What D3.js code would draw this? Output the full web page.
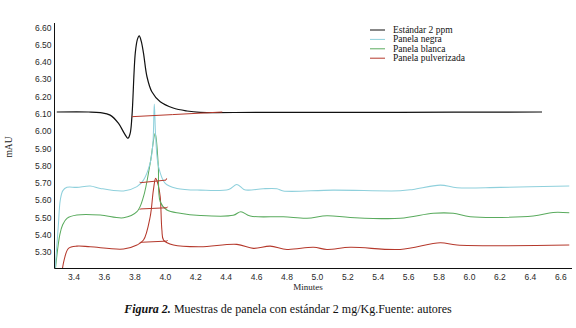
<!DOCTYPE html>
<html><head><meta charset="utf-8">
<script src="https://cdn.jsdelivr.net/npm/d3@7"></script>
<style>html,body{margin:0;padding:0;background:#fff;}svg{display:block;}</style>
</head><body>
<svg id="c" width="576" height="328"></svg>
<script>
const seriesNames = ["Estándar 2 ppm","Panela negra","Panela blanca","Panela pulverizada"];
const seriesColors = ["#111111","#8fd0dc","#5aab5e","#b5392c"];
const xTicks = [3.4,3.6,3.8,4.0,4.2,4.4,4.6,4.8,5.0,5.2,5.4,5.6,5.8,6.0,6.2,6.4,6.6];
const yTicks = [6.6,6.5,6.4,6.3,6.2,6.1,6.0,5.9,5.8,5.7,5.6,5.5,5.4,5.3];

const estandar = [[3.29,6.11],[3.50,6.11],[3.576,6.106],[3.641,6.092],[3.696,6.044],[3.735,5.985],[3.758,5.958],[3.772,5.985],[3.784,6.083],[3.806,6.451],[3.82,6.53],[3.832,6.550],[3.845,6.52],[3.860,6.451],[3.883,6.314],[3.915,6.227],[3.970,6.169],[4.055,6.133],[4.146,6.116],[4.233,6.108],[4.6,6.108],[5.2,6.108],[5.9,6.109],[6.48,6.11]];
const negra = [[3.275,5.15],[3.30,5.45],[3.313,5.60],[3.33,5.655],[3.357,5.674],[3.422,5.674],[3.51,5.682],[3.576,5.668],[3.729,5.653],[3.817,5.678],[3.86,5.716],[3.904,5.815],[3.922,5.929],[3.931,6.156],[3.941,5.95],[3.959,5.793],[4.003,5.697],[4.08,5.668],[4.234,5.658],[4.42,5.662],[4.474,5.691],[4.52,5.662],[4.549,5.658],[4.647,5.666],[4.737,5.666],[4.779,5.653],[5.107,5.658],[5.548,5.654],[5.633,5.662],[5.811,5.687],[5.921,5.672],[6.205,5.674],[6.659,5.682]];
const blanca = [[3.275,5.15],[3.31,5.40],[3.33,5.46],[3.357,5.495],[3.422,5.514],[3.576,5.514],[3.729,5.498],[3.817,5.533],[3.86,5.62],[3.904,5.813],[3.937,5.987],[3.957,5.803],[3.97,5.591],[4.014,5.543],[4.101,5.524],[4.233,5.511],[4.45,5.512],[4.50,5.533],[4.562,5.508],[4.779,5.504],[4.935,5.495],[5.066,5.51],[5.219,5.50],[5.548,5.495],[5.765,5.524],[5.896,5.524],[6.008,5.504],[6.422,5.508],[6.553,5.529],[6.659,5.527]];
const pulverizada = [[3.318,5.15],[3.34,5.26],[3.367,5.321],[3.422,5.334],[3.51,5.33],[3.729,5.317],[3.817,5.34],[3.86,5.369],[3.904,5.504],[3.925,5.658],[3.94,5.726],[3.957,5.687],[3.97,5.62],[3.981,5.427],[3.992,5.369],[4.057,5.34],[4.233,5.33],[4.474,5.344],[4.583,5.321],[4.693,5.334],[4.803,5.315],[4.978,5.327],[5.066,5.315],[5.219,5.327],[5.548,5.315],[5.811,5.353],[5.921,5.34],[6.659,5.34]];
// integration baselines drawn in red
const baseEstandar = [[3.784,6.083],[4.05,6.095],[4.378,6.11]];
const baseNegra = [[3.836,5.706],[3.839,5.701],[4.008,5.716],[4.012,5.726]];
const baseBlanca = [[3.836,5.545],[3.839,5.549],[4.014,5.556],[4.018,5.562]];
const basePulverizada = [[3.836,5.352],[3.839,5.356],[4.014,5.363],[4.018,5.368]];

const svg = d3.select("#c");
const L = 54.5, R = 572, T = 23, B = 268.5;
const x = d3.scaleLinear().domain([3.275, 6.677]).range([L, R]);
const y = d3.scaleLinear().domain([5.2045, 6.625]).range([B, T]);

svg.append("defs").append("clipPath").attr("id","clip")
  .append("rect").attr("x",L).attr("y",T).attr("width",R-L).attr("height",B-T);

const line = d3.line().x(d=>x(d[0])).y(d=>y(d[1])).curve(d3.curveCatmullRom.alpha(0.5));
const lineLin = d3.line().x(d=>x(d[0])).y(d=>y(d[1]));
const g = svg.append("g").attr("clip-path","url(#clip)");
const data = [estandar, negra, blanca, pulverizada];
[3,2,1,0].forEach(i=>{
  g.append("path").attr("d", line(data[i])).attr("fill","none")
   .attr("stroke", seriesColors[i]).attr("stroke-width", i===0?1.2:1.05);
});
[baseEstandar, baseNegra, baseBlanca, basePulverizada].forEach(b=>{
  g.append("path").attr("d", lineLin(b)).attr("fill","none")
   .attr("stroke", seriesColors[3]).attr("stroke-width",1);
});

// axes
const xAxis = d3.axisBottom(x).tickValues(xTicks).tickSize(0).tickPadding(5).tickFormat(d3.format(".1f"));
const yAxis = d3.axisLeft(y).tickValues(yTicks).tickSize(0).tickPadding(3).tickFormat(d3.format(".2f"));
const gx = svg.append("g").attr("transform",`translate(0,${B})`).call(xAxis);
const gy = svg.append("g").attr("transform",`translate(${L},0)`).call(yAxis);
[gx,gy].forEach(a=>{
  a.select(".domain").attr("stroke","#111").attr("stroke-width",1);
  a.selectAll("text").attr("font-family","'Liberation Sans', Arial, sans-serif").attr("font-size","8.5px").attr("fill","#2a2a2a");
});
gx.select(".domain").attr("d",`M${L},0H${R}`);
gy.select(".domain").attr("d",`M0,${T}V${B}`);

// axis titles
svg.append("text").attr("x",308).attr("y",290).attr("text-anchor","middle")
  .attr("font-family","'Liberation Serif', 'Times New Roman', serif").attr("font-size","9px").attr("fill","#222").text("Minutes");
svg.append("text").attr("transform","translate(12,147) rotate(-90)").attr("text-anchor","middle")
  .attr("font-family","'Liberation Serif', 'Times New Roman', serif").attr("font-size","9.5px").attr("fill","#222").text("mAU");

// legend
const lg = svg.append("g");
seriesNames.forEach((n,i)=>{
  const yy = 30 + i*9.4;
  lg.append("line").attr("x1",370).attr("x2",385).attr("y1",yy).attr("y2",yy)
    .attr("stroke",seriesColors[i]).attr("stroke-width",1);
  lg.append("text").attr("x",393).attr("y",yy+3).attr("font-family","'Liberation Serif', 'Times New Roman', serif")
    .attr("font-size","9.5px").attr("fill","#111").text(n);
});

// caption
const cap = svg.append("text").attr("x",288).attr("y",313).attr("text-anchor","middle")
  .attr("font-family","'Liberation Serif', 'Times New Roman', serif").attr("font-size","12px").attr("fill","#111");
cap.append("tspan").attr("font-weight","bold").attr("font-style","italic").text("Figura 2.");
cap.append("tspan").text(" Muestras de panela con estándar 2 mg/Kg.Fuente: autores");
</script>
</body></html>
